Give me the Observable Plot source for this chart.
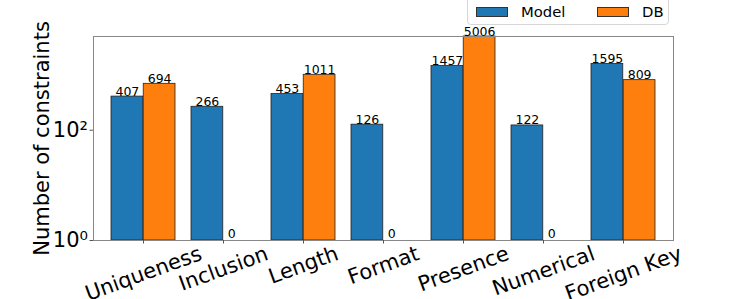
<!DOCTYPE html>
<html><head><meta charset="utf-8">
<script src="https://cdn.jsdelivr.net/npm/d3@7"></script>
<script src="https://cdn.jsdelivr.net/npm/@observablehq/plot@0.6"></script>
<style>
body{margin:0;background:#fff;font-family:"DejaVu Sans",sans-serif;}
#wrap{position:relative;width:747px;height:299px;overflow:hidden;}
#legend{position:absolute;left:467px;top:-9px;width:202px;height:34px;border:1px solid #d6d6d6;border-radius:4px;background:rgba(255,255,255,0.85);box-sizing:border-box;}
.sw{position:absolute;width:32px;height:10px;border:1px solid #333;box-sizing:border-box;}
.lt{position:absolute;font-size:14.8px;line-height:1;color:#000;white-space:nowrap;}
</style></head><body>
<div id="wrap"><div id="chart"></div><div id="legend"></div></div>
<script>
const categories = ["Uniqueness","Inclusion","Length","Format","Presence","Numerical","Foreign Key"];
const modelValues = [407,266,453,126,1457,122,1595];
const dbValues = [694,0,1011,0,5006,0,809];
const seriesNames = ["Model","DB"];
const seriesColors = ["#1f77b4","#ff7f0e"];
const yTicks = [1,100];
const yLabel = "Number of constraints";

const W = 747, H = 299, mL = 93, mR = 74, mT = 36, mB = 59;
const pad = 0.2;
const step = (W - mL - mR) / (categories.length - pad + 2 * pad);
const bw = step * (1 - pad);
const half = bw / 2;
const bigFont = 21;

const rows = categories.flatMap((c, i) => [
  {category: c, series: seriesNames[0], value: modelValues[i]},
  {category: c, series: seriesNames[1], value: dbValues[i]}
]);
const modelRows = rows.filter(d => d.series === seriesNames[0]);
const dbRows = rows.filter(d => d.series === seriesNames[1]);

const sup = {"0":"\u2070","1":"\u00b9","2":"\u00b2","3":"\u00b3","4":"\u2074"};
const fmtPow = d => "10" + String(Math.round(Math.log10(d))).split("").map(ch => sup[ch]).join("");

const ctx = document.createElement("canvas").getContext("2d");
ctx.font = bigFont + "px 'DejaVu Sans'";
const ang = 20 * Math.PI / 180;
const xLabelMarks = categories.map(c => {
  const w = ctx.measureText(c).width;
  const bboxH = w * Math.sin(ang) + bigFont * Math.cos(ang);
  return Plot.text([c], {x: d => d, frameAnchor: "bottom", dy: 2.5 + bboxH / 2, rotate: -20,
    text: d => d, textAnchor: "middle", lineAnchor: "middle", fontSize: bigFont, fill: "#000"});
});

const barStyle = {stroke: "#222", strokeWidth: 0.8};
const chart = Plot.plot({
  width: W, height: H,
  marginLeft: mL, marginRight: mR, marginTop: mT, marginBottom: mB,
  style: {fontFamily: "DejaVu Sans", background: "transparent", color: "#000"},
  x: {domain: categories, padding: pad, label: null},
  y: {type: "log", domain: [1, 5006], label: null},
  marks: [
    Plot.barY(modelRows.filter(d => d.value > 0), {x: "category", y1: 1, y2: "value", fill: seriesColors[0], insetLeft: 0, insetRight: half, ...barStyle}),
    Plot.barY(dbRows.filter(d => d.value > 0), {x: "category", y1: 1, y2: "value", fill: seriesColors[1], insetLeft: half, insetRight: 0, ...barStyle}),
    Plot.text(modelRows.filter(d => d.value > 0), {x: "category", y: "value", text: d => String(d.value), dx: -bw / 4, dy: -1, lineAnchor: "bottom", fontSize: 12.5, fill: "#000"}),
    Plot.text(dbRows.filter(d => d.value > 0), {x: "category", y: "value", text: d => String(d.value), dx: bw / 4, dy: -1, lineAnchor: "bottom", fontSize: 12.5, fill: "#000"}),
    Plot.text(dbRows.filter(d => d.value === 0), {x: "category", y: 1, text: d => String(d.value), dx: bw / 4 - 8, dy: -3, lineAnchor: "bottom", fontSize: 12.5, fill: "#000"}),
    Plot.frame({stroke: "#888", strokeWidth: 1}),
    Plot.axisY(yTicks, {tickSize: 3.5, tickPadding: 2, fontSize: bigFont, tickFormat: fmtPow, label: null, stroke: "#555"}),
    Plot.axisX({tickSize: 3.5, tickFormat: () => "", label: null, stroke: "#555"}),
    ...xLabelMarks,
    Plot.text([yLabel], {frameAnchor: "left", dx: -51, rotate: -90, text: d => d, textAnchor: "middle", lineAnchor: "middle", fontSize: bigFont, fill: "#000"})
  ]
});
document.getElementById("chart").appendChild(chart);

// legend
const legend = document.getElementById("legend");
const legendItems = [
  {name: seriesNames[0], color: seriesColors[0], sx: 8, tx: 53},
  {name: seriesNames[1], color: seriesColors[1], sx: 129, tx: 174}
];
legendItems.forEach(it => {
  const s = document.createElement("div");
  s.className = "sw"; s.style.left = it.sx + "px"; s.style.top = "15px"; s.style.background = it.color;
  legend.appendChild(s);
  const t = document.createElement("div");
  t.className = "lt"; t.style.left = it.tx + "px"; t.style.top = "13px"; t.textContent = it.name;
  legend.appendChild(t);
});
</script>
</body></html>
